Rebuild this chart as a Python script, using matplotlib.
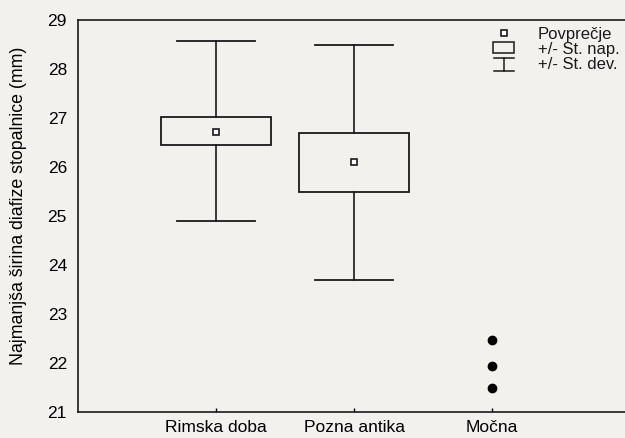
import matplotlib
matplotlib.use("Agg")
import matplotlib.pyplot as plt
from matplotlib.patches import Rectangle
from matplotlib.lines import Line2D

plt.rcParams['font.family'] = ['Liberation Sans', 'DejaVu Sans']

categories = ["Rimska doba", "Pozna antika", "Močna"]
means = [26.72, 26.10]
se_low = [26.45, 25.50]
se_high = [27.02, 26.70]
sd_low = [24.90, 23.70]
sd_high = [28.57, 28.48]
mocna_points = [22.47, 21.93, 21.48]
yticks = [21, 22, 23, 24, 25, 26, 27, 28, 29]
ylabel = "Najmanjša širina diafize stopalnice (mm)"
legend_labels = ["Povprečje", "+/- St. nap.", "+/- St. dev."]

bg = "#f3f1ee"
W, H = 625, 438
fig = plt.figure(figsize=(W / 100, H / 100), dpi=100, facecolor=bg)
ax = fig.add_axes([78 / W, (H - 412) / H, 552 / W, 392 / H])
ax.set_facecolor(bg)

box_w = 0.79
cap_w = 0.56
lc = "#1a1a1a"
for i in range(2):
    x = i + 1
    ax.add_patch(Rectangle((x - box_w / 2, se_low[i]), box_w, se_high[i] - se_low[i],
                           facecolor="none", edgecolor=lc, lw=1.3, zorder=3))
    ax.plot([x, x], [se_high[i], sd_high[i]], color=lc, lw=1.2)
    ax.plot([x, x], [sd_low[i], se_low[i]], color=lc, lw=1.2)
    ax.plot([x - cap_w / 2, x + cap_w / 2], [sd_high[i], sd_high[i]], color=lc, lw=1.3)
    ax.plot([x - cap_w / 2, x + cap_w / 2], [sd_low[i], sd_low[i]], color=lc, lw=1.3)
    ax.plot([x], [means[i]], marker='s', ms=5, mfc='white', mec=lc, mew=1.2, zorder=4)

ax.plot([3] * len(mocna_points), mocna_points, 'o', color='black', ms=6, zorder=4)

ax.set_xlim(0, 4)
ax.set_ylim(21, 29)
ax.set_yticks(yticks)
ax.set_xticks([1, 2, 3])
ax.set_xticklabels(categories, fontsize=12.5)
ax.tick_params(axis='y', length=0, labelsize=12.5, pad=8)
ax.tick_params(axis='x', direction='in', length=3, width=1, labelsize=12.5, pad=6)
for s in ['left', 'bottom', 'top']:
    ax.spines[s].set_color(lc)
    ax.spines[s].set_linewidth(1.2)
ax.spines['right'].set_visible(False)
ax.set_ylabel(ylabel, fontsize=12.8, va='center')
ax.yaxis.set_label_coords(19 / W, (H - 206) / H, transform=fig.transFigure)

# legend drawn in figure pixel coordinates
def fx(px):
    return px / W

def fy(py):
    return (H - py) / H

fig.add_artist(Line2D([fx(504)], [fy(33)], marker='s', ms=5, mfc='white', mec=lc, mew=1.2,
                      transform=fig.transFigure))
fig.add_artist(Rectangle((fx(493), fy(53)), 21 / W, 11 / H, facecolor='none', edgecolor=lc,
                         lw=1.1, transform=fig.transFigure))
fig.add_artist(Line2D([fx(494), fx(514)], [fy(58), fy(58)], color=lc, lw=1.1, transform=fig.transFigure))
fig.add_artist(Line2D([fx(494), fx(514)], [fy(71), fy(71)], color=lc, lw=1.1, transform=fig.transFigure))
fig.add_artist(Line2D([fx(504), fx(504)], [fy(58), fy(71)], color=lc, lw=1.1, transform=fig.transFigure))
for j, lab in enumerate(legend_labels):
    fig.text(fx(538), fy(33 + 15 * j), lab, fontsize=12, va='center_baseline', ha='left', color=lc)

fig.savefig("out.png", dpi=100, facecolor=bg)
